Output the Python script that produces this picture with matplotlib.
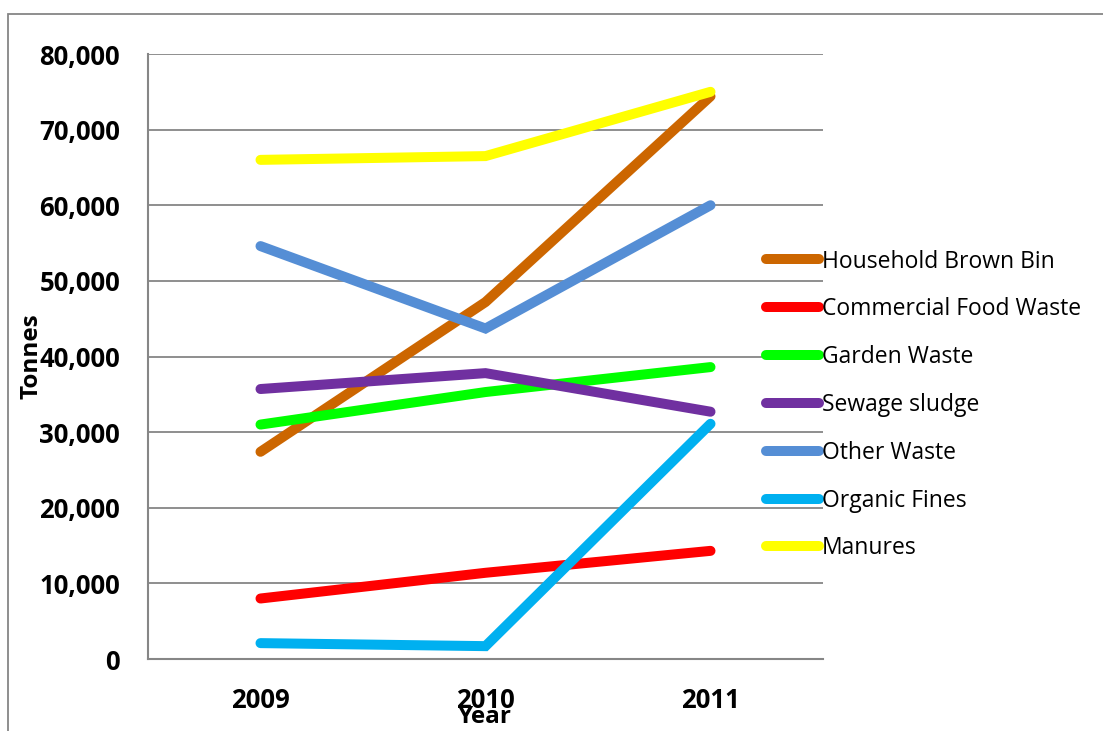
import matplotlib
matplotlib.use("Agg")
import matplotlib.pyplot as plt
from matplotlib.patches import Rectangle

years = ["2009", "2010", "2011"]
series_names = ["Household Brown Bin", "Commercial Food Waste", "Garden Waste",
                "Sewage sludge", "Other Waste", "Organic Fines", "Manures"]
household_brown_bin = [27400, 47200, 74400]
commercial_food_waste = [8000, 11400, 14300]
garden_waste = [31000, 35300, 38600]
sewage_sludge = [35700, 37800, 32700]
other_waste = [54600, 43700, 60000]
organic_fines = [2100, 1700, 31100]
manures = [66000, 66500, 75000]
series_values = [household_brown_bin, commercial_food_waste, garden_waste,
                 sewage_sludge, other_waste, organic_fines, manures]
colors = ["#CC6600", "#FF0000", "#00FF00", "#7030A0", "#558ED5", "#00B0F0", "#FFFF00"]
y_ticks = [0, 10000, 20000, 30000, 40000, 50000, 60000, 70000, 80000]
y_tick_labels = ["0", "10,000", "20,000", "30,000", "40,000", "50,000", "60,000", "70,000", "80,000"]

FONT = "Open Sans"
W, H = 1103, 731
fig = plt.figure(figsize=(W / 100, H / 100), dpi=100)
fig.patch.set_facecolor("white")

# chart-area border (only top and left visible in the crop)
fig.patches.append(Rectangle((8 / W, -0.2), 1.5, 1 - 14 / H + 0.2, transform=fig.transFigure,
                             fill=False, edgecolor="#868686", linewidth=1.3, zorder=0))

ax = fig.add_axes([148 / W, 72 / H, (823 - 148) / W, (659 - 54) / H])
x = list(range(len(years)))
for name, vals, c in zip(series_names, series_values, colors):
    ax.plot(x, vals, color=c, linewidth=7.2, solid_capstyle="round",
            solid_joinstyle="miter", label=name, zorder=3)

ax.set_xlim(-0.5, 2.5)
ax.set_ylim(0, 80000)
ax.set_xticks(x)
ax.set_xticklabels(years, fontfamily=FONT, fontweight="bold", fontsize=18.5)
ax.set_yticks(y_ticks)
ax.set_yticklabels(y_tick_labels, fontfamily=FONT, fontweight="bold", fontsize=18.5)
ax.tick_params(axis="both", length=0)
ax.tick_params(axis="y", pad=20)
ax.tick_params(axis="x", pad=20)
ax.yaxis.grid(True, color="#868686", linewidth=1.3)
ax.set_axisbelow(True)
for s in ["top", "right"]:
    ax.spines[s].set_visible(False)
for s in ["left", "bottom"]:
    ax.spines[s].set_color("#868686")
    ax.spines[s].set_linewidth(1.5)

fig.text(32 / W, 1 - 356 / H, "Tonnes", rotation=90, ha="center", va="center",
         fontfamily=FONT, fontweight="bold", fontsize=17.5)
fig.text(485 / W, 1 - 717 / H, "Year", ha="center", va="center",
         fontfamily=FONT, fontweight="bold", fontsize=17.5)

leg = fig.legend(loc="center left", bbox_to_anchor=(766 / W, 1 - 405 / H),
                 frameon=False, borderpad=0, borderaxespad=0,
                 handlelength=2.3, handletextpad=0.15, labelspacing=1.04,
                 prop={"family": FONT, "size": 16.5})
for line in leg.get_lines():
    line.set_linewidth(7.2)
    line.set_solid_capstyle("round")

fig.savefig("out.png", dpi=100)
